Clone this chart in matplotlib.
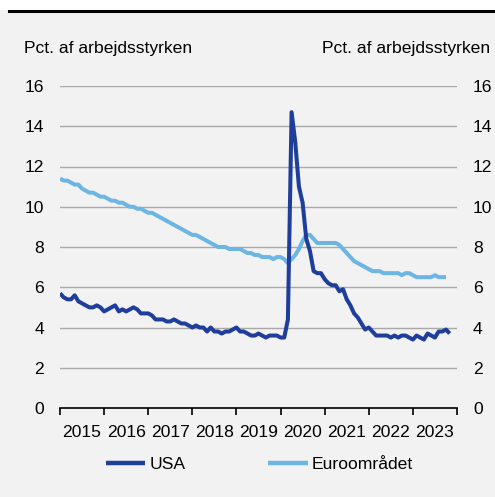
import matplotlib
matplotlib.use("Agg")
import matplotlib.pyplot as plt
from matplotlib.lines import Line2D
from matplotlib.patches import Rectangle
import numpy as np

plt.rcParams['font.family'] = ['Liberation Sans', 'DejaVu Sans']

# Monthly unemployment rate, Jan 2015 onwards
usa = [5.7, 5.5, 5.4, 5.4, 5.6, 5.3, 5.2, 5.1, 5.0, 5.0, 5.1, 5.0,
       4.8, 4.9, 5.0, 5.1, 4.8, 4.9, 4.8, 4.9, 5.0, 4.9, 4.7, 4.7,
       4.7, 4.6, 4.4, 4.4, 4.4, 4.3, 4.3, 4.4, 4.3, 4.2, 4.2, 4.1,
       4.0, 4.1, 4.0, 4.0, 3.8, 4.0, 3.8, 3.8, 3.7, 3.8, 3.8, 3.9,
       4.0, 3.8, 3.8, 3.7, 3.6, 3.6, 3.7, 3.6, 3.5, 3.6, 3.6, 3.6,
       3.5, 3.5, 4.4, 14.7, 13.2, 11.0, 10.2, 8.4, 7.8, 6.8, 6.7, 6.7,
       6.4, 6.2, 6.1, 6.1, 5.8, 5.9, 5.4, 5.1, 4.7, 4.5, 4.2, 3.9,
       4.0, 3.8, 3.6, 3.6, 3.6, 3.6, 3.5, 3.6, 3.5, 3.6, 3.6, 3.5,
       3.4, 3.6, 3.5, 3.4, 3.7, 3.6, 3.5, 3.8, 3.8, 3.9, 3.7]
euro = [11.4, 11.3, 11.3, 11.2, 11.1, 11.1, 10.9, 10.8, 10.7, 10.7, 10.6, 10.5,
        10.5, 10.4, 10.3, 10.3, 10.2, 10.2, 10.1, 10.0, 10.0, 9.9, 9.9, 9.8,
        9.7, 9.7, 9.6, 9.5, 9.4, 9.3, 9.2, 9.1, 9.0, 8.9, 8.8, 8.7,
        8.6, 8.6, 8.5, 8.4, 8.3, 8.2, 8.1, 8.0, 8.0, 8.0, 7.9, 7.9,
        7.9, 7.9, 7.8, 7.7, 7.7, 7.6, 7.6, 7.5, 7.5, 7.5, 7.4, 7.5,
        7.5, 7.4, 7.2, 7.4, 7.6, 7.9, 8.3, 8.6, 8.6, 8.4, 8.2, 8.2,
        8.2, 8.2, 8.2, 8.2, 8.1, 7.9, 7.7, 7.5, 7.3, 7.2, 7.1, 7.0,
        6.9, 6.8, 6.8, 6.8, 6.7, 6.7, 6.7, 6.7, 6.7, 6.6, 6.7, 6.7,
        6.6, 6.5, 6.5, 6.5, 6.5, 6.5, 6.6, 6.5, 6.5, 6.5]
years = [2015, 2016, 2017, 2018, 2019, 2020, 2021, 2022, 2023]
yticks = [0, 2, 4, 6, 8, 10, 12, 14, 16]
series_names = ["USA", "Euroområdet"]
ylabel = "Pct. af arbejdsstyrken"

c_usa = "#1f3e9c"
c_euro = "#6db5e3"
bg = "#f2f2f2"
fs = 12.6

W, H = 495, 497
fig = plt.figure(figsize=(W / 100, H / 100), dpi=100, facecolor=bg)
# white strip above top rule
fig.patches.append(Rectangle((0, 1 - 10 / H), 1, 10 / H, transform=fig.transFigure,
                             facecolor="white", edgecolor="none"))
fig.lines.append(Line2D([9 / W, 1], [1 - 11 / H, 1 - 11 / H], transform=fig.transFigure,
                        color="black", lw=2.2))

left, right = 60 / W, 457 / W
bottom, top = 1 - 408 / H, 1 - 86 / H
ax = fig.add_axes([left, bottom, right - left, top - bottom])
ax.set_facecolor(bg)

x_usa = 2015 + np.arange(len(usa)) / 12
x_euro = 2015 + np.arange(len(euro)) / 12

for y in yticks[1:]:
    ax.axhline(y, color="#a9a9a9", lw=1.0, zorder=1)

ax.plot(x_euro, euro, color=c_euro, lw=2.9, label=series_names[1], zorder=3,
        solid_capstyle="butt", solid_joinstyle="round")
ax.plot(x_usa, usa, color=c_usa, lw=2.9, label=series_names[0], zorder=4,
        solid_capstyle="butt", solid_joinstyle="round")

ax.set_xlim(2015, 2024)
ax.set_ylim(0, 16)
for s in ["top", "left", "right"]:
    ax.spines[s].set_visible(False)
ax.spines["bottom"].set_color("black")
ax.spines["bottom"].set_linewidth(1.2)
ax.spines["bottom"].set_zorder(5)

ax.set_xticks(list(range(2015, 2025)))
ax.set_xticklabels([])
ax.tick_params(axis="x", which="major", direction="out", length=5, width=1.2, color="black")
ax.set_xticks([y + 0.5 for y in years], minor=True)
ax.set_xticklabels([str(y) for y in years], minor=True, fontsize=fs)
ax.tick_params(axis="x", which="minor", length=0, pad=12.5)

ax.set_yticks(yticks)
ax.set_yticklabels([str(v) for v in yticks], fontsize=fs)
ax.tick_params(axis="y", length=0, pad=11.5, labelleft=True, labelright=True)

fig.text(24 / W, 1 - 48 / H, ylabel, fontsize=fs, ha="left", va="center")
fig.text(490 / W, 1 - 48 / H, ylabel, fontsize=fs, ha="right", va="center")

h, l = ax.get_legend_handles_labels()
order = [1, 0]
leg = fig.legend([h[i] for i in order], [l[i] for i in order], loc="center left",
                 bbox_to_anchor=(106 / W, 1 - 464 / H), ncol=2, frameon=False,
                 fontsize=fs, handlelength=2.25, handletextpad=0.22, columnspacing=4.75,
                 borderpad=0, borderaxespad=0)
for line in leg.get_lines():
    line.set_linewidth(3.2)

fig.savefig("out.png", dpi=100, facecolor=bg)
